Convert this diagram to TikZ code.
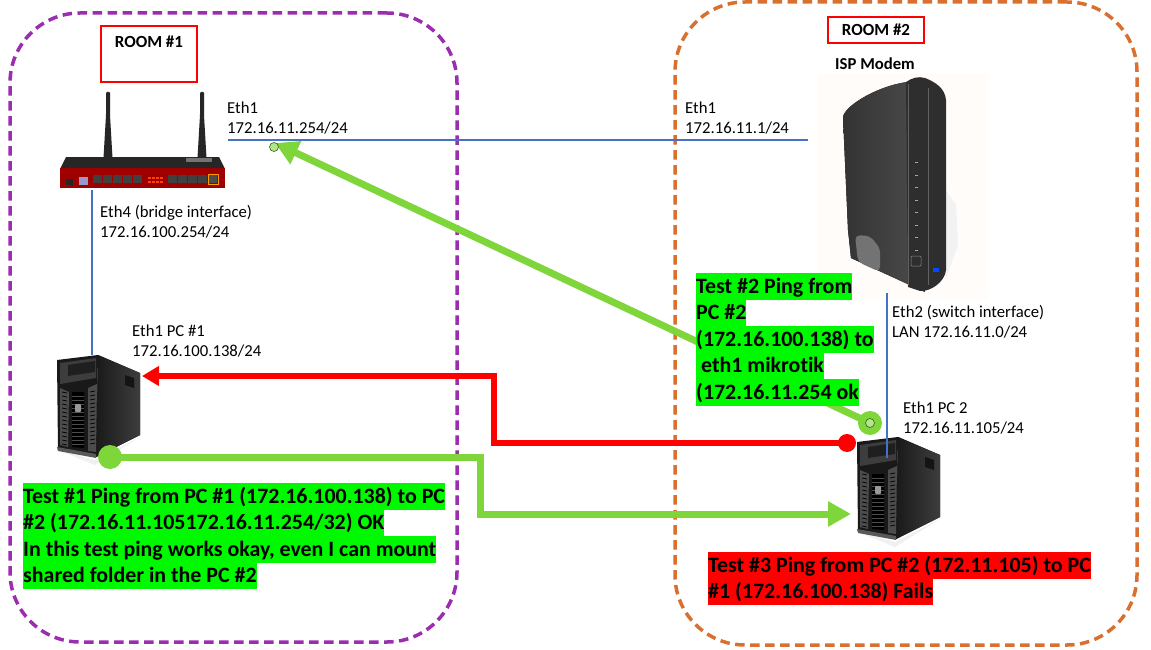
\documentclass[tikz,border=0pt]{standalone}
\usepackage{fontspec}
\setmainfont[Ligatures=NoCommon]{Carlito}
\usetikzlibrary{arrows.meta}
\definecolor{hlgreen}{HTML}{00F900}
\definecolor{hlred}{HTML}{FF0000}
\definecolor{arrowgreen}{HTML}{7ED63A}
\definecolor{linkblue}{HTML}{4472C4}
\definecolor{roompurple}{HTML}{9C2DB0}
\definecolor{roomorange}{HTML}{D9702F}
\tikzset{
  roombox/.style={draw,line width=3.5pt,dash pattern=on 9.5pt off 5.5pt,rounded corners=70pt,outer sep=0pt},
  roomtag/.style={draw=red,line width=1.7pt,fill=white,outer sep=0pt},
  roomname/.style={font=\fontsize{17}{20}\selectfont\bfseries,inner sep=0pt},
  iflabel/.style={font=\fontsize{16.7}{19.7}\selectfont,align=left,anchor=north west,inner sep=0pt},
  hlline/.style={font=\fontsize{21.9}{26}\selectfont\bfseries,anchor=base west,inner sep=0pt,text height=20pt,text depth=6.5pt},
  link/.style={draw=linkblue,line width=1.6pt},
  greenflow/.style={draw=arrowgreen,line width=7pt,-{Triangle[length=23pt,width=24pt]}},
  redflow/.style={draw=red,line width=6pt,-{Triangle[length=17pt,width=19pt]}},
  dotgreen/.style={circle,fill=arrowgreen,inner sep=0pt,minimum size=24pt},
  dotred/.style={circle,fill=red,inner sep=0pt,minimum size=18pt},
  dotsmall/.style={circle,fill=arrowgreen!60!white,draw=black!55!arrowgreen,line width=.6pt,inner sep=0pt,minimum size=9pt},
}
\newcommand{\towerserver}{%
  \fill[black!6] (58,450) -- (95,460) -- (140,437) -- (95,465) -- cycle;
  \fill[left color=black!90,right color=black!76] (98,355) -- (140,373) -- (140,435) -- (96,457) -- cycle;
  \fill[black!92] (125,375) -- (134,378) -- (134,388) -- (125,385) -- cycle;
  \fill[black!90] (57,360) -- (98,355) -- (96,457) -- (58,450) -- cycle;
  \fill[black!76] (60,363) -- (96,358) -- (96,378) -- (60,384) -- cycle;
  \fill[black!88] (68,365) -- (95,361) -- (95,372) -- (68,376) -- cycle;
  \fill[black!70] (60,388) -- (69,392) -- (68,447) -- (60,445) -- cycle;
  \fill[black!70] (88,388) -- (97,384) -- (96,452) -- (88,451) -- cycle;
  \fill[black] (72,392) -- (84,392) -- (84,448) -- (72,447) -- cycle;
  \foreach \yy in {396,400,...,444}{\draw[black!70,line width=.5pt] (72,\yy) -- (84,\yy);}
  \foreach \yy in {392,396,...,444}{\draw[black,line width=.7pt] (62,\yy) -- (67,\yy+1) (90,\yy) -- (95,\yy-1);}
  \fill[black!40,rounded corners=1pt] (75,404) rectangle (81,412);
  \fill[black!65] (57,447) -- (96,454) -- (96,458) -- (58,451) -- cycle;
}
\newcommand{\antenna}[1]{%
  \fill[black!85,rounded corners=1pt] (#1-2,115) -- (#1-2,92) -- (#1+2,92) -- (#1+2,115) -- (#1+4.5,158) -- (#1-4.5,158) -- cycle;
}
\begin{document}
\begin{tikzpicture}[x=1pt,y=-1pt]
\useasboundingbox (0,0) rectangle (1151,650);
\fill[white] (0,0) rectangle (1151,650);

% rooms
\node[roombox,draw=roompurple,minimum width=447pt,minimum height=629pt,anchor=north west,inner sep=0pt] (room1) at (10,13) {};
\node[roombox,draw=roomorange,minimum width=462pt,minimum height=643pt,anchor=north west,inner sep=0pt] (room2) at (675,2) {};
\node[roomtag,minimum width=96pt,minimum height=56pt,anchor=north west,inner sep=0pt] (tag1) at (101,26) {};
\node[roomname] (tag1text) at (149,42) {ROOM \#1};
\node[roomtag,minimum width=96pt,minimum height=26pt,inner sep=0pt,roomname] (tag2) at (876,30) {ROOM \#2};
\node[roomname,font=\fontsize{16.7}{20}\selectfont\bfseries] (ispname) at (875,64) {ISP Modem};

% router
\antenna{108}
\antenna{202}
\fill[black!85] (66,157) -- (219,157) -- (225,169) -- (60,169) -- cycle;
\fill[black!55] (186,158) rectangle (212,161.5);
\fill[red!62!black] (60,168) rectangle (225,188);
\fill[black!85] (66,179) rectangle (73,185);
\fill[black!50!blue!40!white] (79,177) rectangle (88,185);
\foreach \xx in {93,103,113,123,133,168,178,188,198}{\fill[black!75] (\xx,175) rectangle (\xx+9,183);}
\fill[black!70] (208,175) rectangle (217,183);
\draw[orange!80!yellow,line width=.8pt] (208,174) rectangle (218,184);
\foreach \xx in {148,152,156,160}{\foreach \yy in {177,181}{\fill[orange!50!red] (\xx,\yy) rectangle (\xx+2.5,\yy+2);}}

% modem
\fill[black!2!orange!2!white] (818,74) rectangle (988,300);
\fill[black!5] (946,190) -- (956,205) -- (958,245) -- (946,278) -- cycle;
\fill[left color=black!80,right color=black!70] (843,117) .. controls (845,105) and (880,85) .. (908,82) -- (925,292) -- (851,258) -- (848,230) -- cycle;
\fill[black!82] (906,82) .. controls (912,78) and (918,76) .. (925,78) .. controls (935,82) and (945,88) .. (946,100) -- (946,270) .. controls (945,282) and (930,292) .. (920,291) -- (908,287) -- cycle;
\draw[black!62,line width=.7pt] (908,84) -- (908,285);
\draw[black!62,line width=.7pt] (928,88) -- (928,285);
\fill[black!55,rounded corners=5pt] (855,235) -- (870,236) -- (880,248) -- (880,272) -- (858,262) -- cycle;
\foreach \yy in {162,175,187,200,212,225,237,250}{\fill[black!35] (915,\yy) rectangle (918,\yy+1.2);}
\draw[black!45,line width=.5pt,rounded corners=1pt] (911,256) rectangle (921,266);
\fill[blue!70!cyan] (933,268) rectangle (939,272);

% servers
\begin{scope}\towerserver\end{scope}
\begin{scope}[shift={(800,82)}]\towerserver\end{scope}

% anchors
\coordinate (eth1L) at (228,140);
\coordinate (eth1R) at (808,140);
\coordinate (routerB) at (92,190);
\coordinate (srv1T) at (92,355);
\coordinate (modemB) at (887,293);
\coordinate (srv2T) at (887,458);
\node[dotgreen] (t1start) at (110,457) {};
\coordinate (t1a) at (480,457);
\coordinate (t1b) at (480,514);
\coordinate (t1end) at (851,514);
\node[dotred] (t3start) at (847,443) {};
\coordinate (t3a) at (494,443);
\coordinate (t3b) at (494,376);
\coordinate (t3end) at (142,376);
\node[dotgreen] (t2start) at (870,423) {};
\coordinate (t2end) at (275,143);

% links
\draw[link] (eth1L) -- (eth1R);
\draw[link] (routerB) -- (srv1T);

% flows
\draw[greenflow] (t2start.center) -- (t2end);
\node[dotsmall] (t2tip) at (274,147) {};
\node[dotsmall] (t2inner) at (870,423) {};
\draw[greenflow] (t1start.center) -- (t1a) -- (t1b) -- (t1end);
\draw[redflow] (t3start.center) -- (t3a) -- (t3b) -- (t3end);
\draw[link] (modemB) -- (srv2T);

% interface labels
\node[iflabel] (l1) at (227,102) {Eth1\\172.16.11.254/24};
\node[iflabel] (l2) at (685,102) {Eth1\\172.16.11.1/24};
\node[iflabel] (l3) at (100,205) {Eth4 (bridge interface)\\172.16.100.254/24};
\node[iflabel] (l4) at (132,325) {Eth1 PC \#1\\172.16.100.138/24};
\node[iflabel] (l5) at (892,305) {Eth2 (switch interface)\\LAN 172.16.11.0/24};
\node[iflabel] (l6) at (903,402) {Eth1 PC 2\\172.16.11.105/24};

% highlighted test notes
\node[hlline,fill=hlgreen] (a1) at (23,503) {Test \#1 Ping from PC \#1 (172.16.100.138) to PC};
\node[hlline,fill=hlgreen] (a2) at (23,529.5) {\#2 (172.16.11.105172.16.11.254/32) OK};
\node[hlline,fill=hlgreen] (a3) at (23,556) {In this test ping works okay, even I can mount};
\node[hlline,fill=hlgreen] (a4) at (23,582.5) {shared folder in the PC \#2};

\node[hlline,fill=hlgreen] (b1) at (696,293) {Test \#2 Ping from};
\node[hlline,fill=hlgreen] (b2) at (696,319.5) {PC \#2};
\node[hlline,fill=hlgreen] (b3) at (696,346) {(172.16.100.138) to};
\node[hlline,fill=hlgreen] (b4) at (696,372.5) {\hspace{5pt}eth1 mikrotik};
\node[hlline,fill=hlgreen] (b5) at (696,399) {(172.16.11.254 ok};

\node[hlline,fill=hlred] (c1) at (708,572) {Test \#3 Ping from PC \#2 (172.11.105) to PC};
\node[hlline,fill=hlred] (c2) at (708,598.5) {\#1 (172.16.100.138) Fails};
\end{tikzpicture}
\end{document}
